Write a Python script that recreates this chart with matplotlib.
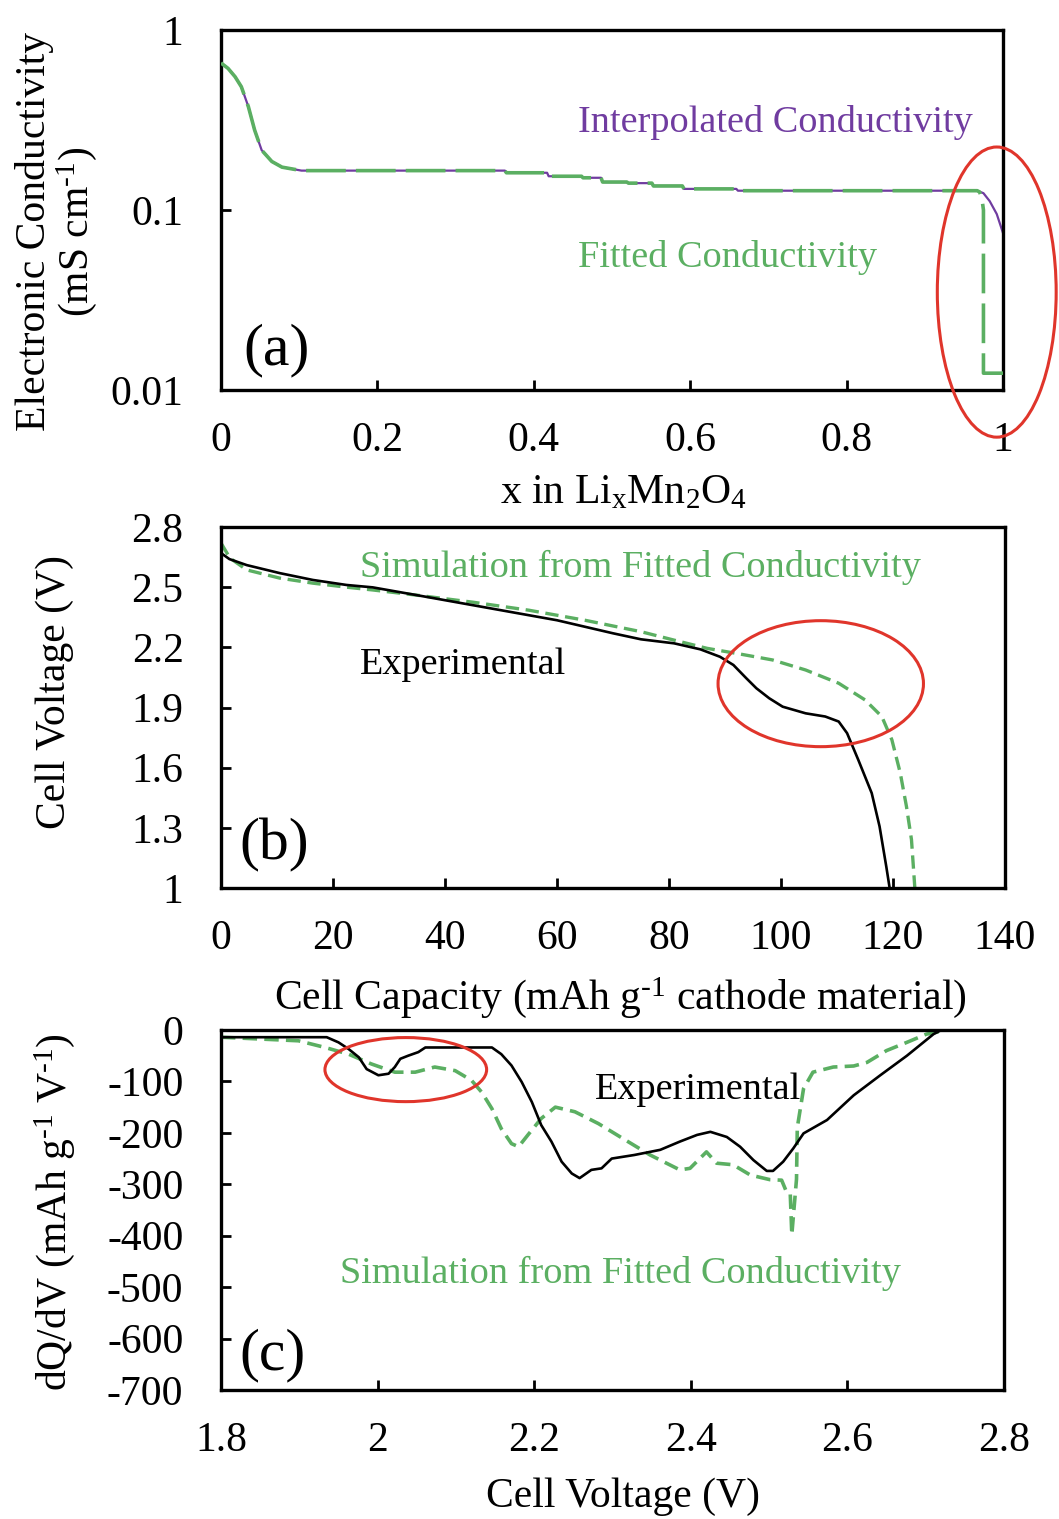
import numpy as np
import matplotlib
matplotlib.use("Agg")
import matplotlib.pyplot as plt
from matplotlib.patches import Ellipse
from matplotlib.ticker import NullLocator

plt.rcParams['font.family'] = ['Liberation Serif', 'DejaVu Serif']
plt.rcParams['mathtext.fontset'] = 'custom'
plt.rcParams['mathtext.rm'] = 'Liberation Serif'
plt.rcParams['mathtext.it'] = 'Liberation Serif:italic'
plt.rcParams['mathtext.default'] = 'regular'
plt.rcParams['axes.unicode_minus'] = False

# colours
GREEN = '#5BAF62'
PURPLE = '#703CA0'
RED = '#E0352B'

# ---- (a) conductivity vs x in LixMn2O4 ----
x_li = [0, 0.009, 0.018, 0.026, 0.035, 0.043, 0.052, 0.065, 0.078, 0.103,
        0.363, 0.365, 0.417, 0.419, 0.461, 0.463, 0.486, 0.488, 0.519, 0.521,
        0.551, 0.553, 0.590, 0.592, 0.659, 0.661, 0.967]
sigma_common = [0.656, 0.612, 0.55, 0.484, 0.375, 0.278, 0.215, 0.186, 0.173, 0.1655,
                0.1655, 0.161, 0.161, 0.154, 0.154, 0.151, 0.151, 0.143, 0.143, 0.141,
                0.141, 0.136, 0.136, 0.131, 0.131, 0.128, 0.128]
# tails where the two curves part
x_interp_tail = [0.975, 0.983, 0.992, 1.0]
sigma_interp_tail = [0.124, 0.112, 0.095, 0.0745]
x_fit_tail = [0.970, 0.973, 0.975, 0.975, 1.0]
sigma_fit_tail = [0.126, 0.116, 0.10, 0.0124, 0.0124]

# ---- (b) discharge curves ----
cap_exp = [0, 1.5, 4.6, 10.5, 16.4, 22.4, 27.1, 35, 45, 55, 60, 70, 75, 80.9,
           85.6, 89.1, 91.5, 93.8, 95.6, 97.9, 100.3, 104.4, 107.9, 110.3, 111.8,
           113.8, 116.2, 117.6, 118.8, 119.4]
volt_exp = [2.67, 2.64, 2.61, 2.57, 2.536, 2.511, 2.499, 2.46, 2.41, 2.36, 2.335, 2.27, 2.24, 2.220,
            2.190, 2.153, 2.112, 2.046, 1.996, 1.946, 1.904, 1.871, 1.855, 1.830, 1.772,
            1.639, 1.473, 1.307, 1.107, 1.0]
cap_sim = [0, 1.6, 4.6, 10.5, 16.4, 22.4, 27.1, 35, 45, 55, 65, 75, 80.9, 86.8,
           92.6, 98.5, 104.4, 110.3, 115.0, 118.0, 119.8, 121.3, 122.4, 123.3, 123.9]
volt_sim = [2.72, 2.645, 2.586, 2.545, 2.52, 2.50, 2.486, 2.46, 2.425, 2.385, 2.335, 2.278, 2.236, 2.195,
            2.167, 2.137, 2.087, 2.021, 1.938, 1.855, 1.739, 1.573, 1.407, 1.241, 1.0]

# ---- (c) dQ/dV ----
v_exp = [1.8, 1.935, 1.95, 1.963, 1.976, 1.986, 2.001, 2.014, 2.022, 2.029, 2.039, 2.052,
         2.061, 2.146, 2.158, 2.171, 2.184, 2.197, 2.209, 2.222, 2.235, 2.248, 2.258, 2.273,
         2.286, 2.299, 2.328, 2.361, 2.386, 2.408, 2.425, 2.446, 2.463, 2.48, 2.497, 2.505,
         2.518, 2.531, 2.544, 2.574, 2.608, 2.642, 2.676, 2.71, 2.72]
dqdv_exp = [-14, -14, -24, -37, -53, -76, -88, -85, -72, -56, -50, -43,
            -34, -34, -47, -69, -101, -140, -185, -217, -256, -279, -288, -272,
            -269, -250, -243, -233, -217, -204, -198, -208, -227, -253, -274, -274,
            -256, -230, -201, -175, -127, -88, -50, -8, 0]
v_sim = [1.8, 1.899, 1.933, 1.963, 1.992, 2.022, 2.048, 2.073, 2.099, 2.12, 2.133, 2.146,
         2.158, 2.171, 2.18, 2.192, 2.209, 2.227, 2.252, 2.282, 2.31, 2.348, 2.386, 2.399,
         2.42, 2.433, 2.454, 2.476, 2.501, 2.516, 2.522, 2.527, 2.529, 2.535, 2.536, 2.544,
         2.556, 2.582, 2.608, 2.625, 2.65, 2.676, 2.701, 2.722]
dqdv_sim = [-14, -21, -34, -47, -66, -82, -82, -72, -79, -98, -121, -153,
            -192, -221, -227, -204, -172, -150, -159, -182, -208, -243, -272, -269,
            -237, -259, -262, -282, -291, -292, -314, -318, -398, -290, -190, -114,
            -82, -72, -70, -63, -40, -24, -8, -2]

W, H = 1059, 1519
fig = plt.figure(figsize=(W / 100, H / 100), dpi=100)

def add_axes(left, right, top, bottom):
    return fig.add_axes([left / W, 1 - bottom / H, (right - left) / W, (bottom - top) / H])

ax_a = add_axes(221, 1003, 30, 390)
ax_b = add_axes(221, 1005, 527, 888)
ax_c = add_axes(221, 1004, 1030, 1390)

TICK_FS = 30
NOTE_FS = 27.5
PANEL_FS = 43
for ax in (ax_a, ax_b, ax_c):
    for sp in ax.spines.values():
        sp.set_linewidth(2.4)
    ax.tick_params(direction='in', length=7.5, width=2, labelsize=TICK_FS,
                   top=False, right=False)
    ax.tick_params(axis='x', pad=23)
    ax.tick_params(axis='y', pad=27)

# (a)
ax_a.plot(x_li + x_interp_tail, sigma_common + sigma_interp_tail, color=PURPLE, lw=1.6, zorder=2)
ax_a.plot(x_li + x_fit_tail, sigma_common + sigma_fit_tail, color=GREEN, lw=2.6,
          dashes=(11, 2.8), zorder=3)
ax_a.set_yscale('log')
ax_a.set_ylim(0.01, 1)
ax_a.set_xlim(0, 1)
ax_a.set_yticks([0.01, 0.1, 1])
ax_a.set_yticklabels(['0.01', '0.1', '1'])
ax_a.yaxis.set_minor_locator(NullLocator())
ax_a.set_xticks([0, 0.2, 0.4, 0.6, 0.8, 1])
ax_a.set_xticklabels(['0', '0.2', '0.4', '0.6', '0.8', '1'])
ax_a.set_xlabel(r'x in Li$_x$Mn$_2$O$_4$', fontsize=TICK_FS, va='center')
ax_a.xaxis.set_label_coords(0.515, -0.286)
ax_a.set_ylabel('Electronic Conductivity\n(mS cm$^{\\text{-1}}$)', fontsize=TICK_FS, va='center',
                linespacing=1.0)
ax_a.yaxis.set_label_coords(-0.21, 0.439)
ax_a.text(0.4565, 0.744, 'Interpolated Conductivity', color=PURPLE, fontsize=NOTE_FS,
          transform=ax_a.transAxes, va='center')
ax_a.text(0.4565, 0.367, 'Fitted Conductivity', color=GREEN, fontsize=NOTE_FS,
          transform=ax_a.transAxes, va='center')
ax_a.text(0.028, 0.111, '(a)', fontsize=PANEL_FS, transform=ax_a.transAxes, va='center')
ax_a.add_patch(Ellipse((0.992, 0.272), 0.152, 0.806, transform=ax_a.transAxes,
                       fill=False, ec=RED, lw=2.2, clip_on=False, zorder=5))

# (b)
ax_b.plot(cap_exp, volt_exp, color='black', lw=1.9, zorder=3)
ax_b.plot(cap_sim, volt_sim, color=GREEN, lw=2.4, dashes=(4, 2), zorder=2)
ax_b.set_xlim(0, 140)
ax_b.set_ylim(1, 2.8)
ax_b.set_xticks(np.arange(0, 141, 20))
ax_b.set_yticks([1, 1.3, 1.6, 1.9, 2.2, 2.5, 2.8])
ax_b.set_yticklabels(['1', '1.3', '1.6', '1.9', '2.2', '2.5', '2.8'])
ax_b.set_xlabel('Cell Capacity (mAh g$^{\\text{-1}}$ cathode material)', fontsize=TICK_FS, va='center')
ax_b.xaxis.set_label_coords(0.509, -0.302)
ax_b.set_ylabel('Cell Voltage (V)', fontsize=TICK_FS, va='center')
ax_b.yaxis.set_label_coords(-0.212, 0.543)
ax_b.text(0.177, 0.889, 'Simulation from Fitted Conductivity', color=GREEN, fontsize=NOTE_FS,
          transform=ax_b.transAxes, va='center')
ax_b.text(0.177, 0.618, 'Experimental', color='black', fontsize=NOTE_FS,
          transform=ax_b.transAxes, va='center')
ax_b.text(0.024, 0.119, '(b)', fontsize=PANEL_FS, transform=ax_b.transAxes, va='center')
ax_b.add_patch(Ellipse((0.765, 0.566), 0.262, 0.349, transform=ax_b.transAxes,
                       fill=False, ec=RED, lw=2.2, clip_on=False, zorder=5))

# (c)
ax_c.plot(v_exp, dqdv_exp, color='black', lw=1.9, zorder=3)
ax_c.plot(v_sim, dqdv_sim, color=GREEN, lw=2.6, dashes=(4, 2), zorder=2)
ax_c.set_xlim(1.8, 2.8)
ax_c.set_ylim(-700, 0)
ax_c.set_xticks([1.8, 2.0, 2.2, 2.4, 2.6, 2.8])
ax_c.set_xticklabels(['1.8', '2', '2.2', '2.4', '2.6', '2.8'])
ax_c.set_yticks(np.arange(-700, 1, 100))
ax_c.set_xlabel('Cell Voltage (V)', fontsize=TICK_FS, va='center')
ax_c.xaxis.set_label_coords(0.513, -0.297)
ax_c.set_ylabel('dQ/dV (mAh g$^{\\text{-1}}$ V$^{\\text{-1}}$)', fontsize=TICK_FS, va='center')
ax_c.yaxis.set_label_coords(-0.212, 0.494)
ax_c.text(0.478, 0.833, 'Experimental', color='black', fontsize=NOTE_FS,
          transform=ax_c.transAxes, va='center')
ax_c.text(0.152, 0.325, 'Simulation from Fitted Conductivity', color=GREEN, fontsize=NOTE_FS,
          transform=ax_c.transAxes, va='center')
ax_c.text(0.024, 0.097, '(c)', fontsize=PANEL_FS, transform=ax_c.transAxes, va='center')
ax_c.add_patch(Ellipse((0.236, 0.890), 0.2065, 0.178, transform=ax_c.transAxes,
                       fill=False, ec=RED, lw=2.2, clip_on=False, zorder=5))

fig.savefig('out.png', dpi=100)
